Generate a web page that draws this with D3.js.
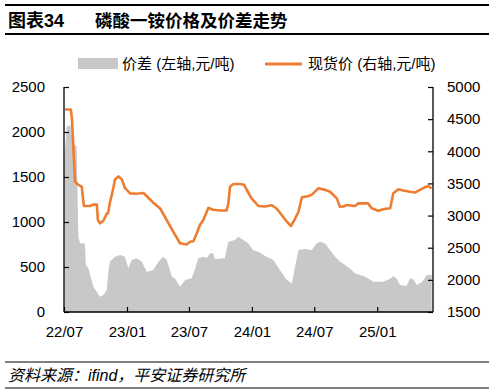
<!DOCTYPE html>
<html>
<head>
<meta charset="utf-8">
<script src="https://cdn.jsdelivr.net/npm/d3@7"></script>
<style>
  body { margin: 0; background: #fff; }
  svg text { font-family: "Liberation Sans", Arial, "Noto Sans CJK SC", sans-serif; fill: #000; }
</style>
</head>
<body>
<div id="chart"></div>
<script>
// spread (left axis, yuan/ton)
var spreadDates = ["2022-07-02","2022-07-09","2022-07-19","2022-07-23","2022-07-28","2022-08-07","2022-08-12","2022-08-17","2022-08-31","2022-09-03","2022-09-10","2022-09-25","2022-10-14","2022-10-24","2022-11-03","2022-11-07","2022-11-12","2022-11-27","2022-12-12","2022-12-26","2023-01-05","2023-01-15","2023-01-29","2023-02-13","2023-02-28","2023-03-19","2023-04-03","2023-04-17","2023-04-27","2023-05-12","2023-05-22","2023-06-05","2023-06-20","2023-07-09","2023-07-19","2023-07-28","2023-08-12","2023-08-22","2023-09-01","2023-09-10","2023-09-15","2023-10-14","2023-10-24","2023-11-13","2023-11-22","2023-12-07","2023-12-21","2024-01-04","2024-01-24","2024-02-12","2024-03-03","2024-03-23","2024-04-12","2024-04-27","2024-05-06","2024-05-16","2024-06-04","2024-06-24","2024-07-08","2024-07-18","2024-08-02","2024-08-16","2024-08-31","2024-09-14","2024-09-29","2024-10-14","2024-10-28","2024-11-12","2024-11-27","2024-12-21","2025-01-19","2025-02-08","2025-02-17","2025-02-27","2025-03-09","2025-03-28","2025-04-07","2025-04-17","2025-04-27","2025-05-11","2025-05-26","2025-06-09"]
var spreadValues = [1700,2059,2078,1980,1874,1837,837,763,760,522,490,281,170,190,244,430,559,615,633,615,485,578,596,560,448,467,559,615,580,393,370,281,356,374,480,596,615,600,652,652,585,596,781,800,837,800,763,689,660,615,580,467,356,319,504,689,700,689,763,781,760,689,615,560,522,480,430,410,393,337,337,370,400,370,300,290,374,360,300,330,411,411]

// spot price (right axis, yuan/ton)
var priceDates = ["2022-07-04","2022-07-21","2022-07-24","2022-07-28","2022-08-02","2022-08-11","2022-08-22","2022-08-25","2022-08-28","2022-09-15","2022-09-24","2022-10-05","2022-10-08","2022-10-14","2022-10-24","2022-11-03","2022-11-07","2022-11-12","2022-11-21","2022-11-27","2022-12-07","2022-12-17","2022-12-26","2023-01-10","2023-01-29","2023-02-18","2023-02-28","2023-03-19","2023-04-08","2023-04-27","2023-05-16","2023-06-05","2023-06-24","2023-07-04","2023-07-14","2023-07-24","2023-08-02","2023-08-12","2023-08-27","2023-09-10","2023-09-30","2023-10-19","2023-10-24","2023-10-29","2023-11-08","2023-11-27","2023-12-09","2023-12-17","2023-12-31","2024-01-20","2024-02-08","2024-02-28","2024-03-13","2024-03-28","2024-04-12","2024-04-24","2024-05-06","2024-05-16","2024-05-26","2024-06-13","2024-06-25","2024-07-13","2024-08-02","2024-08-16","2024-08-26","2024-09-05","2024-09-14","2024-09-24","2024-10-04","2024-10-28","2024-11-07","2024-12-05","2024-12-16","2025-01-04","2025-01-19","2025-02-08","2025-02-17","2025-03-04","2025-03-18","2025-04-07","2025-04-22","2025-05-06","2025-05-21","2025-05-30","2025-06-09"]
var priceValues = [4650,4650,4520,4100,3530,3480,3450,3290,3150,3150,3170,3170,2930,2880,2920,3030,3040,3200,3400,3560,3610,3560,3430,3346,3340,3350,3300,3200,3110,2931,2749,2569,2550,2594,2600,2724,2853,2930,3120,3090,3080,3080,3180,3449,3491,3491,3480,3398,3268,3149,3140,3160,3110,3009,2905,2838,2950,3060,3284,3300,3330,3424,3400,3370,3320,3268,3138,3140,3164,3150,3190,3190,3113,3076,3100,3113,3346,3408,3390,3371,3360,3400,3440,3460,3424]

var leftTicks = [0,500,1000,1500,2000,2500]
var rightTicks = [1500,2000,2500,3000,3500,4000,4500,5000]
var monthTicks = ["2022-07-01","2023-01-01","2023-07-01","2024-01-01","2024-07-01","2025-01-01"]

var parse = d3.timeParse("%Y-%m-%d")
var spread = spreadDates.map(function(d,i){ return {date: parse(d), v: spreadValues[i]} })
var price = priceDates.map(function(d,i){ return {date: parse(d), v: priceValues[i]} })

var W = 494, H = 389
var margin = {top: 87, right: 61, bottom: 77, left: 64}
var width = W - margin.left - margin.right,
    height = H - margin.top - margin.bottom

var svg = d3.select("#chart").append("svg")
  .attr("width", W).attr("height", H)

// header / footer rules
svg.append("line").attr("x1",5).attr("x2",489).attr("y1",5).attr("y2",5).attr("stroke","#000").attr("stroke-width",1.8)
svg.append("line").attr("x1",5).attr("x2",489).attr("y1",34).attr("y2",34).attr("stroke","#000").attr("stroke-width",1.8)
svg.append("text").attr("x",8).attr("y",27).attr("font-size",18).attr("font-weight","bold")
  .text("图表34")
svg.append("text").attr("x",95).attr("y",27).attr("font-size",17.5).attr("font-weight","bold")
  .text("磷酸一铵价格及价差走势")
svg.append("line").attr("x1",5).attr("x2",489).attr("y1",362).attr("y2",362).attr("stroke","#000").attr("stroke-width",1)
svg.append("line").attr("x1",5).attr("x2",489).attr("y1",388).attr("y2",388).attr("stroke","#000").attr("stroke-width",1)
svg.append("text").attr("x",8).attr("y",381).attr("font-size",16).attr("font-style","italic")
  .text("资料来源：ifind，平安证券研究所")

// legend
svg.append("rect").attr("x",78).attr("y",58).attr("width",40).attr("height",11).attr("fill","#c8c8c8")
svg.append("text").attr("x",122).attr("y",69).attr("font-size",15).text("价差 (左轴,元/吨)")
svg.append("line").attr("x1",265).attr("x2",302).attr("y1",64).attr("y2",64).attr("stroke","#ed7d31").attr("stroke-width",3)
svg.append("text").attr("x",308).attr("y",69).attr("font-size",15).text("现货价 (右轴,元/吨)")

var g = svg.append("g").attr("transform","translate(" + margin.left + "," + margin.top + ")")

var x = d3.scaleTime()
  .domain([parse("2022-07-01"), parse("2025-06-13")])
  .range([0, width])
var yL = d3.scaleLinear().domain([0,2500]).range([height,0])
var yR = d3.scaleLinear().domain([1500,5000]).range([height,0])

g.append("path")
  .datum(spread)
  .attr("fill","#c8c8c8")
  .attr("d", d3.area()
    .x(function(d){ return x(d.date) })
    .y0(height)
    .y1(function(d){ return yL(d.v) }))

g.append("path")
  .datum(price)
  .attr("fill","none")
  .attr("stroke","#ed7d31")
  .attr("stroke-width",2.6)
  .attr("stroke-linejoin","round")
  .attr("d", d3.line()
    .x(function(d){ return x(d.date) })
    .y(function(d){ return yR(d.v) }))

// axes
var fmt = d3.format("d")
var axL = g.append("g").call(d3.axisLeft(yL).tickValues(leftTicks).tickFormat(fmt).tickSize(-5).tickPadding(19))
var axR = g.append("g").attr("transform","translate(" + width + ",0)")
  .call(d3.axisRight(yR).tickValues(rightTicks).tickFormat(fmt).tickSize(-5).tickPadding(14))
var axB = g.append("g").attr("transform","translate(0," + height + ")")
  .call(d3.axisBottom(x).tickValues(monthTicks.map(parse)).tickFormat(d3.timeFormat("%y/%m")).tickSize(-5).tickPadding(14))

;[axL, axR, axB].forEach(function(a){
  a.select(".domain").attr("stroke","#000").attr("stroke-width",1.3)
  a.selectAll(".tick line").attr("stroke","#000").attr("stroke-width",1.2)
  a.selectAll(".tick text").attr("font-size",15).attr("font-family",null).attr("fill","#000")
})
axL.select(".domain").attr("d","M0," + height + "V0")
axR.select(".domain").attr("d","M0," + height + "V0")
axB.select(".domain").attr("d","M0,0H" + width)
</script>
</body>
</html>
